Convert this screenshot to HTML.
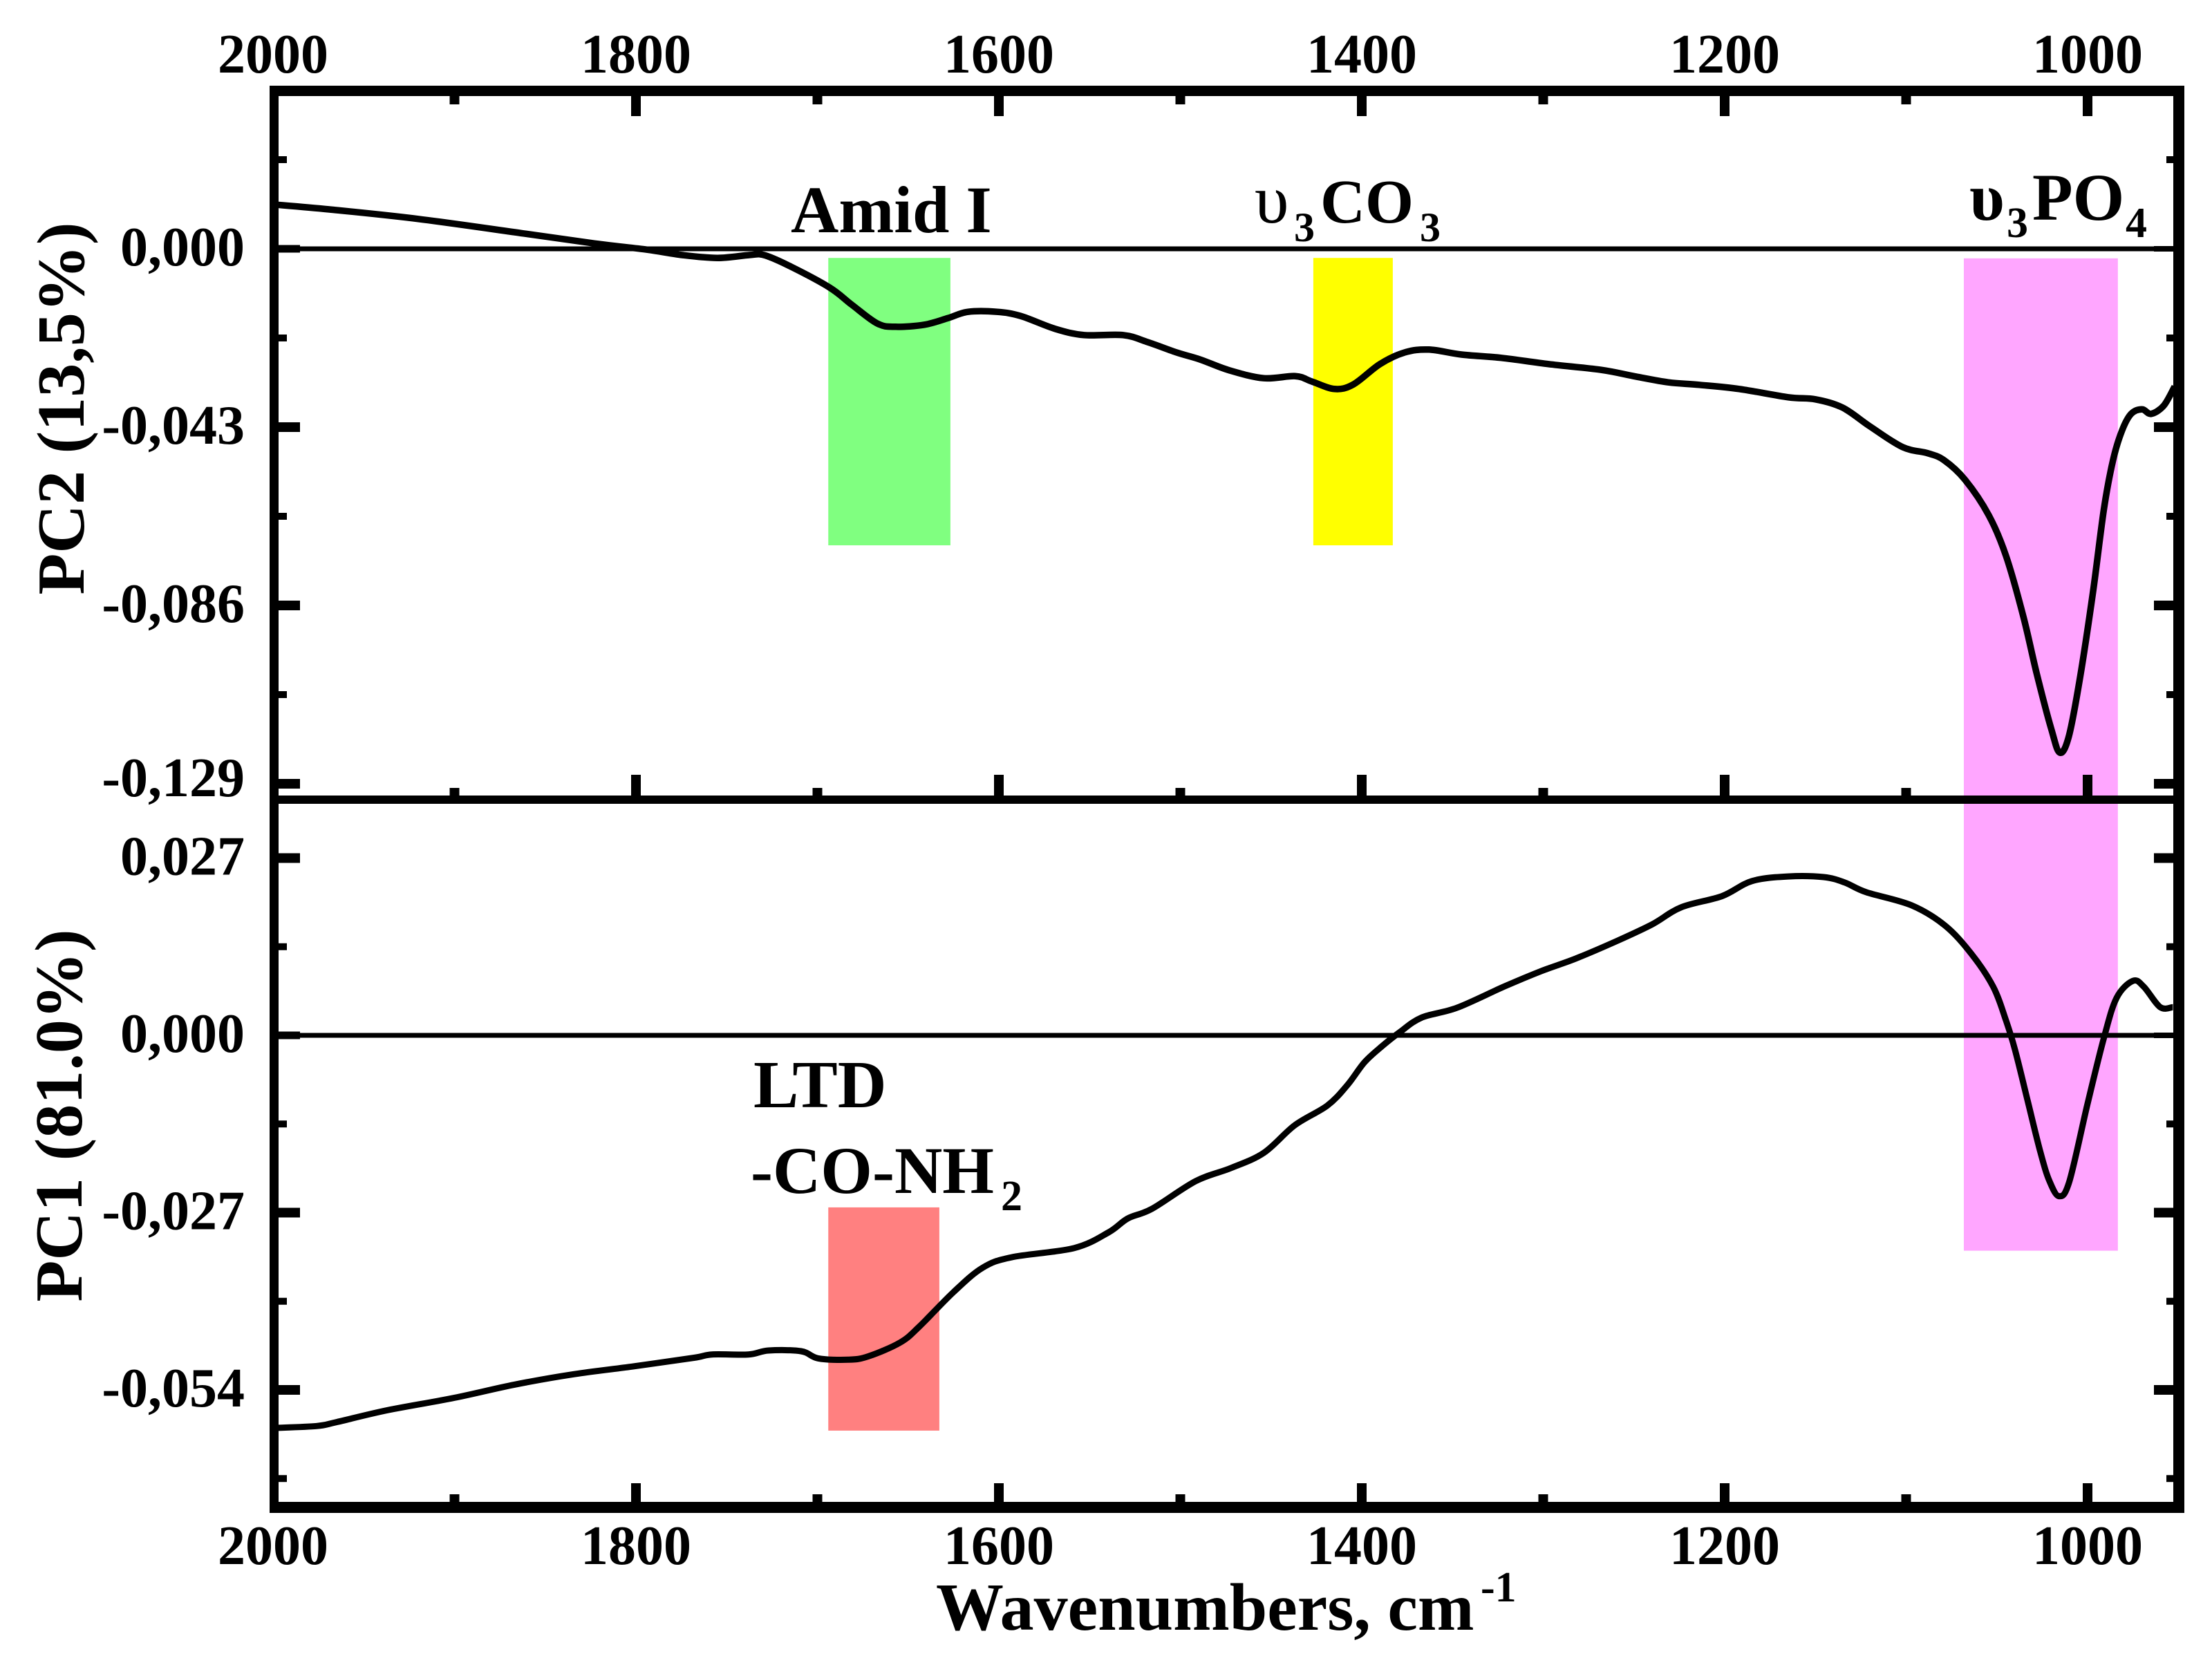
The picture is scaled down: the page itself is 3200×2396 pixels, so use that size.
<!DOCTYPE html>
<html lang="en">
<head>
<meta charset="utf-8">
<title>PCA loadings: PC1 and PC2 versus wavenumber</title>
<style>
  html, body { margin: 0; padding: 0; background: #fff; }
  body { width: 3200px; height: 2396px; overflow: hidden; }
  svg { display: block; }
  text { font-family: "Liberation Serif", serif; font-weight: bold; fill: #000; }
</style>
</head>
<body>
<svg id="chart" width="3200" height="2396" viewBox="0 0 3200 2396" xmlns="http://www.w3.org/2000/svg">
  <rect x="0" y="0" width="3200" height="2396" fill="#ffffff"></rect>
  <g id="bands"></g>
  <g id="zero-lines"></g>
  <g id="series"></g>
  <g id="frame">
    <rect x="390" y="124" width="2770" height="15" fill="#000"></rect>
    <rect x="390" y="124" width="13" height="2065" fill="#000"></rect>
    <rect x="3144" y="124" width="16" height="2065" fill="#000"></rect>
    <rect x="390" y="2173" width="2770" height="16" fill="#000"></rect>
    <rect x="390" y="1151" width="2770" height="12" fill="#000"></rect>
  </g>
  <g id="ticks"></g>
  <g id="tick-labels"></g>

  <text x="121" y="591" font-size="98" text-anchor="middle" transform="rotate(-90 121 591)">PC2 (13,5%)</text>
  <text x="118" y="1614" font-size="98" text-anchor="middle" transform="rotate(-90 118 1614)">PC1 (81.0%)</text>

  <text><tspan x="1354" y="2358" font-size="98">Wavenumbers, cm</tspan><tspan x="2142" y="2317" font-size="62">-1</tspan></text>

  <text x="1144" y="336" font-size="96">Amid I</text>
  <text><tspan x="1815" y="322" font-size="100" font-weight="normal">υ</tspan><tspan x="1872" y="349" font-size="60">3</tspan><tspan x="1910" y="322" font-size="90">CO</tspan><tspan x="2054" y="349" font-size="60">3</tspan></text>
  <text><tspan x="2849" y="318" font-size="98">υ</tspan><tspan x="2903" y="343" font-size="62">3</tspan><tspan x="2940" y="318" font-size="96">PO</tspan><tspan x="3075" y="343" font-size="62">4</tspan></text>
  <text x="1090" y="1602" font-size="98">LTD</text>
  <text><tspan x="1086" y="1726" font-size="96">-CO-NH</tspan><tspan x="1448" y="1751" font-size="62">2</tspan></text>
</svg>

<script>
// ---- Chart data ----
const pc2Wavenumbers = [2000,1969,1920,1862,1823,1794,1774.5,1755,1737.5,1729.5,1716,1693.4,1681,1667,1657,1641,1628,1617,1601,1588,1569,1553,1531.5,1518,1502,1489,1473,1454,1436.6,1427.5,1415,1404.6,1390,1376.4,1363,1345,1323,1297,1268,1249,1231,1214,1192,1165,1150,1135,1120,1102,1088,1079,1067.5,1054.5,1045,1035.5,1028,1020,1015.3,1010.3,1004,997,991,986,981,976,970,965,958,952];
const pc2Values = [0.0107,0.0095,0.0072,0.0037,0.0013,-0.0002,-0.0015,-0.0022,-0.0015,-0.0015,-0.0040,-0.0093,-0.0135,-0.0180,-0.0188,-0.0183,-0.0167,-0.0152,-0.0152,-0.0162,-0.0193,-0.0208,-0.0208,-0.0225,-0.0250,-0.0267,-0.0293,-0.0312,-0.0307,-0.0320,-0.0338,-0.0327,-0.0278,-0.0250,-0.0243,-0.0255,-0.0263,-0.0278,-0.0292,-0.0308,-0.0322,-0.0328,-0.0338,-0.0358,-0.0363,-0.0383,-0.0428,-0.0478,-0.0493,-0.0510,-0.0557,-0.0642,-0.0740,-0.0885,-0.1025,-0.1158,-0.1215,-0.1175,-0.1030,-0.0827,-0.0628,-0.0510,-0.0438,-0.0398,-0.0387,-0.0398,-0.0378,-0.0332];

const pc1Wavenumbers = [2000,1976,1965,1937,1900,1867,1834,1801,1768,1758,1738,1727,1709,1699.5,1683,1672,1654.5,1644,1625,1609,1593,1558.5,1539.5,1529,1515.5,1491.5,1472,1454,1437,1419,1408,1398.5,1388.6,1379,1367,1347.5,1321,1301,1282,1260,1240,1224,1201.5,1185,1165,1145.5,1134,1122,1097,1078.5,1064,1052,1045,1040,1033,1026,1021,1015.6,1010,1000,991,984,975,969,960,953];
const pc1Values = [-0.0598,-0.0595,-0.0589,-0.0571,-0.0552,-0.0532,-0.0516,-0.0504,-0.0491,-0.0486,-0.0486,-0.0480,-0.0481,-0.0492,-0.0494,-0.0489,-0.0468,-0.0444,-0.0391,-0.0354,-0.0338,-0.0324,-0.0300,-0.0279,-0.0264,-0.0222,-0.0202,-0.0179,-0.0137,-0.0107,-0.0076,-0.0041,-0.0016,0.0005,0.0027,0.0042,0.0075,0.0098,0.0117,0.0143,0.0169,0.0195,0.0212,0.0235,0.0242,0.0241,0.0233,0.0218,0.0198,0.0167,0.0124,0.0074,0.0023,-0.0022,-0.0100,-0.0178,-0.0222,-0.0245,-0.0222,-0.0104,-0.0004,0.0057,0.0083,0.0074,0.0043,0.0043];

const xMajorTicks = [2000,1800,1600,1400,1200,1000];
const xMajorLabels = ['2000','1800','1600','1400','1200','1000'];
const xMinorTicks = [1900,1700,1500,1300,1100];

const pc2MajorTicks = [0,-0.043,-0.086,-0.129];
const pc2TickLabels = ['0,000','-0,043','-0,086','-0,129'];
const pc2MinorTicks = [0.0215,-0.0215,-0.0645,-0.1075];

const pc1MajorTicks = [0.027,0,-0.027,-0.054];
const pc1TickLabels = ['0,027','0,000','-0,027','-0,054'];
const pc1MinorTicks = [0.0135,-0.0135,-0.0405,-0.0675];

// Highlight bands, in wavenumbers
const amidBand = [1694,1626.7];
const carbonateBand = [1426.7,1382.9];
const phosphateBand = [1068.2,983.3];
const ltdBand = [1694,1632.8];
// Highlight band extents, in axis values
const upperBandValues = [-0.0022,-0.0715];
const phosphateBandValues = [-0.0023,-0.0328];
const ltdBandValues = [-0.0262,-0.0602];

// ---- Axis functions ----
function xScale(w) { return 395 + (2000 - w) * 2.625; }
function yPc2(v) { return 360 - v * 6000; }
function yPc1(v) { return 1498 - v * 9500; }

const NS = 'http://www.w3.org/2000/svg';
function make(tag, attrs, parentId) {
  const n = document.createElementNS(NS, tag);
  for (const k in attrs) n.setAttribute(k, attrs[k]);
  document.getElementById(parentId).appendChild(n);
  return n;
}

// Smooth path (Catmull-Rom to cubic Bezier)
function smoothPath(xs, ys, xf, yf) {
  const p = xs.map((w, i) => [xf(w), yf(ys[i])]);
  let d = 'M' + p[0][0].toFixed(1) + ' ' + p[0][1].toFixed(1);
  for (let i = 0; i < p.length - 1; i++) {
    const a = p[Math.max(i - 1, 0)], b = p[i], c = p[i + 1], e = p[Math.min(i + 2, p.length - 1)];
    const c1x = b[0] + (c[0] - a[0]) / 6, c1y = b[1] + (c[1] - a[1]) / 6;
    const c2x = c[0] - (e[0] - b[0]) / 6, c2y = c[1] - (e[1] - b[1]) / 6;
    d += 'C' + c1x.toFixed(1) + ' ' + c1y.toFixed(1) + ' ' + c2x.toFixed(1) + ' ' + c2y.toFixed(1) + ' ' + c[0].toFixed(1) + ' ' + c[1].toFixed(1);
  }
  return d;
}

// ---- Bands ----
function band(range, top, bottom, color) {
  return make('rect', {
    x: xScale(range[0]),
    y: top,
    width: xScale(range[1]) - xScale(range[0]),
    height: bottom - top,
    fill: color
  }, 'bands');
}
const b1 = band(amidBand, yPc2(upperBandValues[0]), yPc2(upperBandValues[1]), '#80ff80');


const b2 = band(carbonateBand, yPc2(upperBandValues[0]), yPc2(upperBandValues[1]), '#ffff00');


const b3 = band(phosphateBand, yPc2(phosphateBandValues[0]), yPc1(phosphateBandValues[1]), '#ffa6ff');


const b4 = band(ltdBand, yPc1(ltdBandValues[0]), yPc1(ltdBandValues[1]), '#ff8080');



// ---- Zero lines ----
const z2 = make('line', { x1: 403, x2: 3144, y1: yPc2(0), y2: yPc2(0), stroke: '#000', 'stroke-width': 7 }, 'zero-lines');


const z1 = make('line', { x1: 403, x2: 3144, y1: yPc1(0), y2: yPc1(0), stroke: '#000', 'stroke-width': 7 }, 'zero-lines');



// ---- Series ----
const s2 = make('path', { d: smoothPath(pc2Wavenumbers, pc2Values, xScale, yPc2), fill: 'none', stroke: '#000', 'stroke-width': 9.5, 'stroke-linejoin': 'round' }, 'series');


const s1 = make('path', { d: smoothPath(pc1Wavenumbers, pc1Values, xScale, yPc1), fill: 'none', stroke: '#000', 'stroke-width': 9, 'stroke-linejoin': 'round' }, 'series');



// ---- Ticks ----
function vTick(w, y1, y2) {
  const left = Math.max(390, xScale(w) - 7);
  return make('rect', { x: left, y: Math.min(y1, y2), width: xScale(w) + 7 - left, height: Math.abs(y2 - y1), fill: '#000' }, 'ticks');
}
function hTick(y, x1, x2, t) {
  return make('rect', { x: x1, y: y - t / 2, width: x2 - x1, height: t, fill: '#000' }, 'ticks');
}

xMajorTicks.forEach(function (w) {
  const a = vTick(w, 139, 168);
  
  
  const b = vTick(w, 1151, 1121);
  
  
  const c = vTick(w, 2173, 2146);
  
  
});
xMinorTicks.forEach(function (w) {
  const a = vTick(w, 139, 151);
  
  
  const b = vTick(w, 1151, 1140);
  
  
  const c = vTick(w, 2173, 2162);
  
  
});

function yTicks(major, minor, yf, name) {
  major.forEach(function (v) {
    const isZero = v === 0;
    const l = hTick(yf(v), 403, 434, isZero ? 11 : 14);
    
    
    const r = hTick(yf(v), 3116, 3144, isZero ? 8 : 14);
    
    
  });
  minor.forEach(function (v) {
    const l = hTick(yf(v), 403, 415, 10);
    
    
    const r = hTick(yf(v), 3134, 3144, 10);
    
    
  });
}
yTicks(pc2MajorTicks, pc2MinorTicks, yPc2, 'pc2');
yTicks(pc1MajorTicks, pc1MinorTicks, yPc1, 'pc1');

// ---- Tick labels ----
function label(txt, x, y, anchor) {
  const t = make('text', { x: x, y: y, 'font-size': 80, 'text-anchor': anchor }, 'tick-labels');
  t.textContent = txt;
  return t;
}
xMajorTicks.forEach(function (w, i) {
  const a = label(xMajorLabels[i], xScale(w), 105, 'middle');
  
  
  const b = label(xMajorLabels[i], xScale(w), 2263, 'middle');
  
  
});
pc2MajorTicks.forEach(function (v, i) {
  const a = label(pc2TickLabels[i], 354, yPc2(v) + (i === pc2MajorTicks.length - 1 ? 18 : 24), 'end');
  
  
});
pc1MajorTicks.forEach(function (v, i) {
  const a = label(pc1TickLabels[i], 354, yPc1(v) + 24, 'end');
  
  
});
</script>
</body>
</html>
